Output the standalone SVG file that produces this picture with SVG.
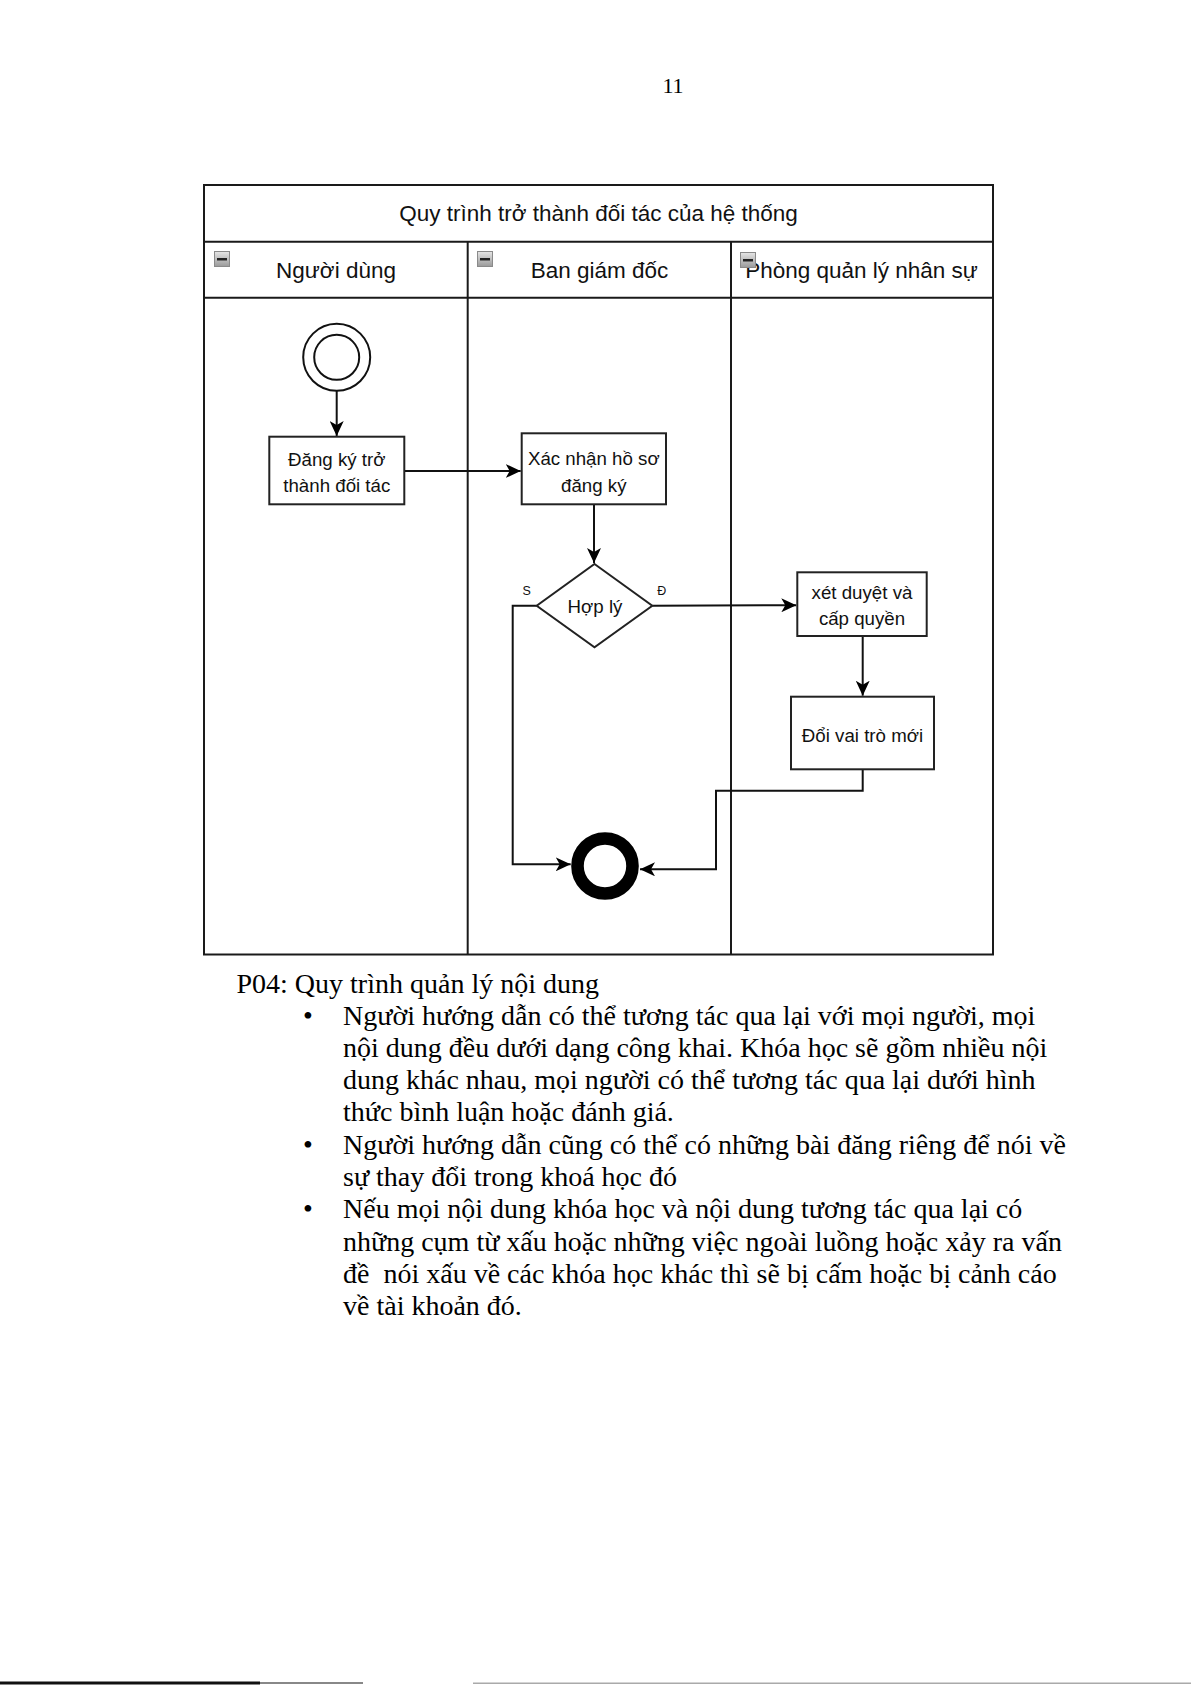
<svg xmlns="http://www.w3.org/2000/svg" width="1191" height="1685" viewBox="0 0 1191 1685">
<style>
.sans{font-family:"Liberation Sans",Arial,sans-serif;fill:#111}
.serif{font-family:"Liberation Serif","Times New Roman",serif;fill:#000}
.lane{fill:none;stroke:#1a1a1a;stroke-width:2}
.box{fill:#fff;stroke:#222;stroke-width:2}
.con{fill:none;stroke:#111;stroke-width:2}
.hdr{font-size:22.5px}
.node{font-size:18.7px}
.body{font-size:28px}
</style>
<defs>
<marker id="arr" markerUnits="userSpaceOnUse" markerWidth="16" markerHeight="14" refX="15" refY="7" orient="auto">
<path d="M0,0 L15,7 L0,14 L4,7 Z" fill="#000"/>
</marker>
<linearGradient id="ig" x1="0" y1="0" x2="0" y2="1">
<stop offset="0" stop-color="#e6e6e6"/>
<stop offset="1" stop-color="#9a9a9a"/>
</linearGradient>
<g id="minus">
<rect x="0.5" y="0.5" width="15" height="15" fill="url(#ig)" stroke="#8a8a8a"/>
<rect x="3" y="7" width="10" height="2.5" fill="#222"/>
</g>
</defs>
<rect width="1191" height="1685" fill="#fff"/>

<text class="serif" x="673" y="92.5" font-size="22" text-anchor="middle">11</text>

<g id="pool">
<rect class="lane" x="204" y="185" width="789" height="769.5"/>
<line class="lane" x1="204" y1="241.7" x2="993" y2="241.7"/>
<line class="lane" x1="204" y1="297.7" x2="993" y2="297.7"/>
<line class="lane" x1="467.7" y1="241.7" x2="467.7" y2="954.5"/>
<line class="lane" x1="731" y1="241.7" x2="731" y2="954.5"/>
<text class="sans hdr" x="598.5" y="221" text-anchor="middle">Quy trình trở thành đối tác của hệ thống</text>
</g>
<g id="lane-nguoidung">
<use href="#minus" x="214" y="251"/>
<text class="sans hdr" x="336" y="278" text-anchor="middle">Người dùng</text>
</g>
<g id="lane-bgd">
<use href="#minus" x="477" y="251"/>
<text class="sans hdr" x="599.5" y="278" text-anchor="middle">Ban giám đốc</text>
</g>
<g id="lane-pqlns">
<text class="sans hdr" x="861.5" y="278" text-anchor="middle">Phòng quản lý nhân sự</text>
<use href="#minus" x="740" y="252"/>
</g>

<g id="connectors">
<line class="con" x1="336.7" y1="391" x2="336.7" y2="436" marker-end="url(#arr)"/>
<line class="con" x1="404.3" y1="471" x2="520.7" y2="471" marker-end="url(#arr)"/>
<line class="con" x1="594" y1="504.3" x2="594" y2="563" marker-end="url(#arr)"/>
<line class="con" x1="652.3" y1="605.7" x2="796.3" y2="605.2" marker-end="url(#arr)"/>
<line class="con" x1="862.7" y1="636" x2="862.7" y2="695.7" marker-end="url(#arr)"/>
<polyline class="con" points="862.7,769.3 862.7,790.7 716,790.7 716,869.3 640,869.3" marker-end="url(#arr)"/>
<polyline class="con" points="536.7,605.7 512.7,605.7 512.7,864.3 570.7,864.3" marker-end="url(#arr)"/>
<text class="sans" x="526.7" y="594.5" font-size="12.5" text-anchor="middle">S</text>
<text class="sans" x="661.7" y="594.5" font-size="12.5" text-anchor="middle">Đ</text>
</g>

<g id="start">
<circle cx="336.7" cy="357.3" r="33.5" fill="#fff" stroke="#111" stroke-width="2"/>
<circle cx="336.7" cy="357.3" r="22.5" fill="none" stroke="#111" stroke-width="2"/>
</g>
<g id="dangky">
<rect class="box" x="269.3" y="436.7" width="135" height="67.6"/>
<text class="sans node" x="336.8" y="465.5" text-anchor="middle">Đăng ký trở</text>
<text class="sans node" x="336.8" y="492" text-anchor="middle">thành đối tác</text>
</g>
<g id="xacnhan">
<rect class="box" x="521.7" y="433.3" width="144.3" height="71"/>
<text class="sans node" x="593.8" y="464.5" text-anchor="middle">Xác nhận hồ sơ</text>
<text class="sans node" x="593.8" y="492" text-anchor="middle">đăng ký</text>
</g>
<g id="hoply">
<polygon points="594.5,564 652.3,605.7 594.5,647.3 536.7,605.7" fill="#fff" stroke="#222" stroke-width="2"/>
<text class="sans node" x="595" y="612.5" text-anchor="middle">Hợp lý</text>
</g>
<g id="xetduyet">
<rect class="box" x="797.3" y="572.3" width="129.4" height="63.7"/>
<text class="sans node" x="862" y="598.5" text-anchor="middle">xét duyệt và</text>
<text class="sans node" x="862" y="625" text-anchor="middle">cấp quyền</text>
</g>
<g id="doivaitro">
<rect class="box" x="791" y="696.7" width="143" height="72.6"/>
<text class="sans node" x="862.5" y="741.5" text-anchor="middle">Đổi vai trò mới</text>
</g>
<g id="end">
<circle cx="605" cy="866" r="27.5" fill="#fff" stroke="#000" stroke-width="12.6"/>
</g>

<g id="text">
<text class="serif body" x="236.5" y="992.5">P04: Quy trình quản lý nội dung</text>
<g class="serif body">
<text x="303" y="1024.5">•</text>
<text x="343" y="1024.5">Người hướng dẫn có thể tương tác qua lại với mọi người, mọi</text>
<text x="343" y="1056.8">nội dung đều dưới dạng công khai. Khóa học sẽ gồm nhiều nội</text>
<text x="343" y="1089.1">dung khác nhau, mọi người có thể tương tác qua lại dưới hình</text>
<text x="343" y="1121.4">thức bình luận hoặc đánh giá.</text>
<text x="303" y="1153.7">•</text>
<text x="343" y="1153.7">Người hướng dẫn cũng có thể có những bài đăng riêng để nói về</text>
<text x="343" y="1186">sự thay đổi trong khoá học đó</text>
<text x="303" y="1218.3">•</text>
<text x="343" y="1218.3">Nếu mọi nội dung khóa học và nội dung tương tác qua lại có</text>
<text x="343" y="1250.6">những cụm từ xấu hoặc những việc ngoài luồng hoặc xảy ra vấn</text>
<text x="343" y="1282.9" xml:space="preserve">đề  nói xấu về các khóa học khác thì sẽ bị cấm hoặc bị cảnh cáo</text>
<text x="343" y="1315.2">về tài khoản đó.</text>
</g>
</g>

<rect x="0" y="1681.5" width="260" height="3" fill="#111"/>
<rect x="260" y="1682" width="103" height="2" fill="#888"/>
<rect x="473" y="1682.5" width="718" height="1.5" fill="#aaa"/>
</svg>
